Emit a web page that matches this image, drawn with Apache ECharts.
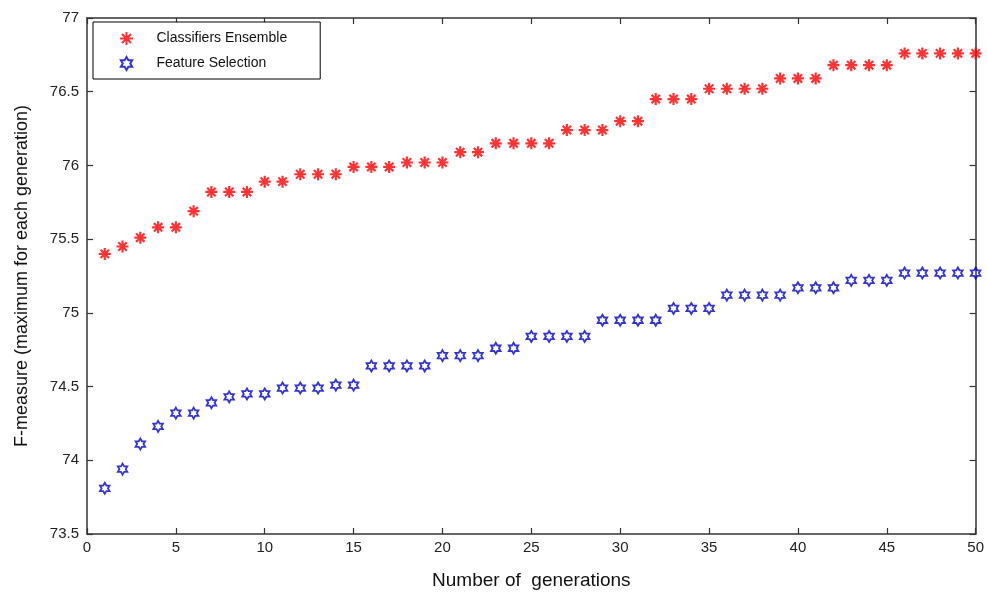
<!DOCTYPE html>
<html>
<head>
<meta charset="utf-8">
<script src="https://cdn.jsdelivr.net/npm/echarts@6/dist/echarts.min.js"></script>
<style>
  html, body { margin: 0; padding: 0; background: #fff; }
  #chart { width: 987px; height: 599px; }
</style>
</head>
<body>
<div id="chart"></div>
<script>
const generations = Array.from({ length: 50 }, (_, i) => i + 1)

const ensembleValues = [
  75.40, 75.45, 75.51, 75.58, 75.58, 75.69, 75.82, 75.82, 75.82, 75.89,
  75.89, 75.94, 75.94, 75.94, 75.99, 75.99, 75.99, 76.02, 76.02, 76.02,
  76.09, 76.09, 76.15, 76.15, 76.15, 76.15, 76.24, 76.24, 76.24, 76.30,
  76.30, 76.45, 76.45, 76.45, 76.52, 76.52, 76.52, 76.52, 76.59, 76.59,
  76.59, 76.68, 76.68, 76.68, 76.68, 76.76, 76.76, 76.76, 76.76, 76.76,
]

const selectionValues = [
  73.81, 73.94, 74.11, 74.23, 74.32, 74.32, 74.39, 74.43, 74.45, 74.45,
  74.49, 74.49, 74.49, 74.51, 74.51, 74.64, 74.64, 74.64, 74.64, 74.71,
  74.71, 74.71, 74.76, 74.76, 74.84, 74.84, 74.84, 74.84, 74.95, 74.95,
  74.95, 74.95, 75.03, 75.03, 75.03, 75.12, 75.12, 75.12, 75.12, 75.17,
  75.17, 75.17, 75.22, 75.22, 75.22, 75.27, 75.27, 75.27, 75.27, 75.27,
]

const seriesNames = ['Classifiers Ensemble', 'Feature Selection']

// marker shapes (MATLAB '*' and 'h')
const asterisk = 'path://M0,-10L0,10M-10,0L10,0M-7,-7L7,7M-7,7L7,-7'
const hexagram = 'path://M0,-10L2.887,-5L8.66,-5L5.77,0L8.66,5L2.887,5L0,10L-2.887,5L-8.66,5L-5.77,0L-8.66,-5L-2.887,-5Z'

const font = 'Liberation Sans, Arial, sans-serif'
const frameColor = '#333'

const chart = echarts.init(document.getElementById('chart'))

function frameAxis(extra) {
  return Object.assign({
    type: 'value',
    axisLine: { show: true, onZero: false, lineStyle: { color: frameColor, width: 1.5 } },
    axisTick: { show: true, inside: true, length: 6, lineStyle: { color: frameColor, width: 1.2 } },
    splitLine: { show: false },
  }, extra)
}

const option = {
  animation: false,
  backgroundColor: '#fff',
  textStyle: { fontFamily: font },
  grid: { left: 87, right: 4, top: 18, bottom: 65, containLabel: false },
  legend: {
    data: seriesNames,
    orient: 'vertical',
    left: 93,
    top: 22,
    padding: [9, 33, 8, 26],
    itemWidth: 50,
    itemHeight: 13,
    itemGap: 10,
    backgroundColor: '#fff',
    borderColor: '#000',
    borderWidth: 1,
    borderRadius: 0,
    textStyle: { fontFamily: font, fontSize: 14, color: '#111' },
  },
  xAxis: [
    frameAxis({
      min: 0, max: 50, interval: 5,
      name: 'Number of  generations',
      nameLocation: 'middle',
      nameGap: 37,
      nameTextStyle: { fontFamily: font, fontSize: 19, color: '#111' },
      axisLabel: { fontFamily: font, fontSize: 15, color: '#222', margin: 6 },
    }),
    frameAxis({ min: 0, max: 50, interval: 5, position: 'top', axisLabel: { show: false } }),
  ],
  yAxis: [
    frameAxis({
      min: 73.5, max: 77, interval: 0.5,
      name: 'F-measure (maximum for each generation)',
      nameLocation: 'middle',
      nameGap: 56,
      nameTextStyle: { fontFamily: font, fontSize: 18, color: '#111' },
      axisLabel: { fontFamily: font, fontSize: 15, color: '#222', margin: 8 },
    }),
    frameAxis({ min: 73.5, max: 77, interval: 0.5, position: 'right', axisLabel: { show: false } }),
  ],
  series: [
    {
      name: seriesNames[0],
      type: 'scatter',
      symbol: asterisk,
      symbolSize: 12,
      symbolKeepAspect: true,
      itemStyle: { color: '#ff0000', borderColor: '#ff0000', borderWidth: 2.2 },
      data: generations.map((g, i) => [g, ensembleValues[i]]),
    },
    {
      name: seriesNames[1],
      type: 'scatter',
      symbol: hexagram,
      symbolSize: 11,
      symbolKeepAspect: true,
      itemStyle: { color: 'rgba(0,0,0,0)', borderColor: '#0000cc', borderWidth: 1.8 },
      data: generations.map((g, i) => [g, selectionValues[i]]),
    },
  ],
}

chart.setOption(option)
</script>
</body>
</html>
